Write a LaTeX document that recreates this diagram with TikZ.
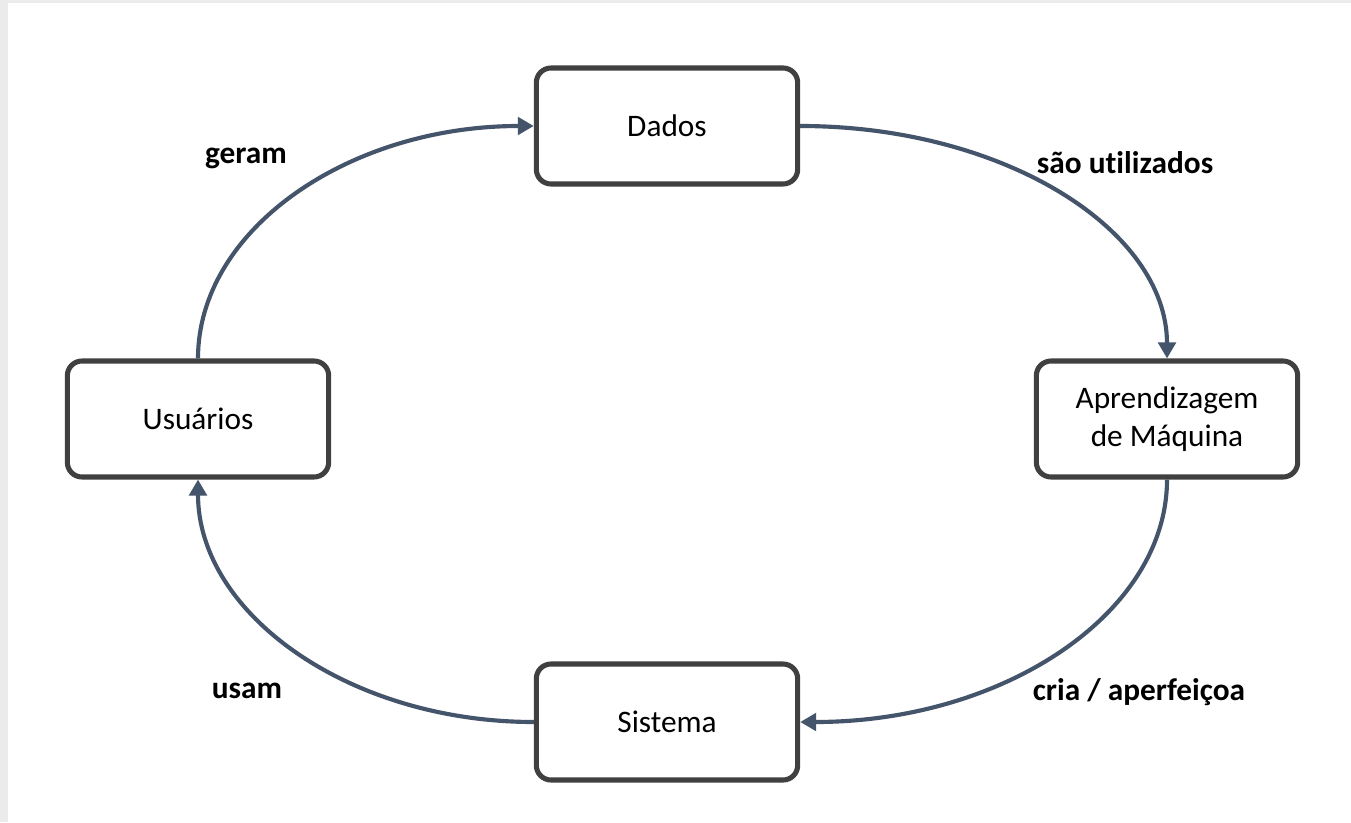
\documentclass[tikz,border=0pt]{standalone}
\usepackage{fontspec}
\setmainfont{Carlito}[Ligatures=NoCommon]
\usetikzlibrary{arrows.meta}
\definecolor{boxgray}{HTML}{404040}
\definecolor{flowblue}{HTML}{44546A}
\definecolor{edgegray}{HTML}{EBEBEB}
\tikzset{
  box/.style={draw=boxgray,line width=3.8pt,rounded corners=11pt,fill=white,
    minimum width=196pt,minimum height=87pt,inner sep=0pt,align=center,
    font=\fontsize{23.5}{28}\selectfont},
  flow/.style={draw=flowblue,line width=3.1pt,-{Triangle[length=12pt,width=13pt]}},
  lbl/.style={font=\fontsize{23.5}{28}\selectfont\bfseries}
}
\begin{document}
\begin{tikzpicture}[x=0.75pt,y=0.75pt]
\useasboundingbox (0,0) rectangle (1351,822);
\fill[edgegray] (0,0) rectangle (1351,822);
\fill[white] (8,0) rectangle (1351,819);
% the four stages
\node[box] (dados) at (667,696) {Dados};
\node[box] (usr) at (198,403) {Usuários};
\node[box] (apr) at (1167,403) {Aprendizagem\\de Máquina};
\node[box] (sis) at (667,100) {Sistema};
% the cycle
\draw[flow] (usr.north) .. controls +(0,129) and +(-185,0) .. (dados.west);
\draw[flow] (dados.east) .. controls +(203,0) and +(0,129) .. (apr.north);
\draw[flow] (apr.south) .. controls +(0,-134) and +(203,0) .. (sis.east);
\draw[flow] (sis.west) .. controls +(-185,0) and +(0,-134) .. (usr.south);
% labels
\node[lbl] (lgeram) at (246,664) {geram};
\node[lbl] (lusados) at (1125,659) {são utilizados};
\node[lbl] (lcria) at (1139,130) {cria / aperfeiçoa};
\node[lbl] (lusam) at (247,131) {usam};
\end{tikzpicture}
\end{document}
